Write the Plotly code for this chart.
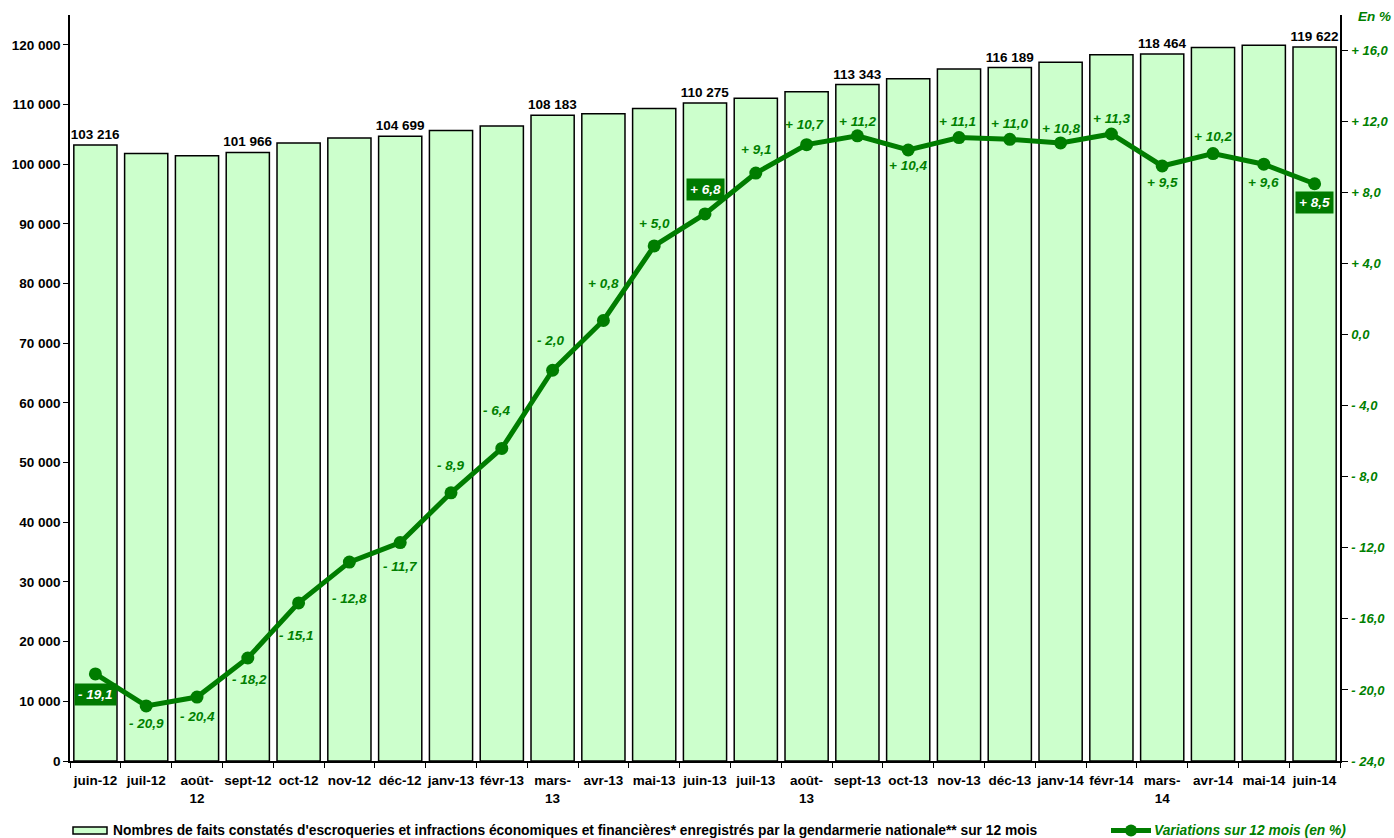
import plotly.graph_objects as go

# Monthly categories (rolling 12-month totals)
months = ["juin-12", "juil-12", "août-12", "sept-12", "oct-12", "nov-12", "déc-12",
          "janv-13", "févr-13", "mars-13", "avr-13", "mai-13", "juin-13", "juil-13",
          "août-13", "sept-13", "oct-13", "nov-13", "déc-13", "janv-14", "févr-14",
          "mars-14", "avr-14", "mai-14", "juin-14"]

# Tick labels for the category axis (long ones wrap)
month_labels = ["juin-12", "juil-12", "août-<br>12", "sept-12", "oct-12", "nov-12", "déc-12",
                "janv-13", "févr-13", "mars-<br>13", "avr-13", "mai-13", "juin-13", "juil-13",
                "août-<br>13", "sept-13", "oct-13", "nov-13", "déc-13", "janv-14", "févr-14",
                "mars-<br>14", "avr-14", "mai-14", "juin-14"]

# Number of recorded offences over 12 months
faits = [103216, 101800, 101400, 101966, 103550, 104400, 104699,
         105650, 106400, 108183, 108450, 109350, 110275, 111050,
         112150, 113343, 114300, 115950, 116189, 117100, 118350,
         118464, 119550, 119950, 119622]

# Months whose total is printed above the bar
labelled_months = ["juin-12", "sept-12", "déc-12", "mars-13", "juin-13",
                   "sept-13", "déc-13", "mars-14", "juin-14"]

# Year-on-year variation, in %
variations = [-19.1, -20.9, -20.4, -18.2, -15.1, -12.8, -11.7, -8.9, -6.4, -2.0,
              0.8, 5.0, 6.8, 9.1, 10.7, 11.2, 10.4, 11.1, 11.0, 10.8, 11.3,
              9.5, 10.2, 9.6, 8.5]

# Vertical offset (px, up is positive) of each variation label from its point
label_shift = [-21, -18, -19, -22, -33, -36, -24, 27, 38, 30, 37, 22, 24, 24,
               20, 14, -16, 16, 16, 14, 16, -17, 17, -18, -19]
label_xshift = [0, 0, 0, 2, -2, 0, 0, 0, -5, -2, 0, 0, 0, 0,
                -2, 0, 0, -2, 0, 0, 0, 0, 0, 0, 0]
highlighted = ["juin-12", "juin-13", "juin-14"]

# Right axis ticks
pct_ticks = [-24, -20, -16, -12, -8, -4, 0, 4, 8, 12, 16]

GREEN = "#008000"
LINE_GREEN = "#007D00"
BOX_GREEN = "#007A00"
FONT = "Liberation Sans, Arial, sans-serif"


def fmt_int(v):
    return f"{v:,}".replace(",", " ")


def fmt_pct(v):
    s = f"{abs(v):.1f}".replace(".", ",")
    if v > 0:
        return "+ " + s
    if v < 0:
        return "- " + s
    return s


bar_text = [fmt_int(v) if m in labelled_months else "" for m, v in zip(months, faits)]

fig = go.Figure()

fig.add_trace(go.Bar(
    x=months, y=faits,
    marker=dict(color="#CCFFCC", line=dict(color="black", width=1.5)),
    text=bar_text, textposition="outside", constraintext="none",
    textfont=dict(family=FONT, size=13.5, color="black", weight="bold"),
    cliponaxis=False, showlegend=False, hoverinfo="x+y",
))

fig.add_trace(go.Scatter(
    x=months, y=variations, yaxis="y2", mode="lines+markers",
    line=dict(color=LINE_GREEN, width=5),
    marker=dict(color=LINE_GREEN, size=13),
    showlegend=False, cliponaxis=False,
))

annotations = []
for m, v, dy, dx in zip(months, variations, label_shift, label_xshift):
    txt = "<b><i>" + fmt_pct(v) + "</i></b>"
    if m in highlighted:
        annotations.append(dict(
            x=m, y=v, xref="x", yref="y2", text=txt,
            showarrow=False, yshift=dy, xshift=dx, bgcolor=BOX_GREEN, borderpad=3,
            font=dict(family=FONT, size=13.5, color="white"),
        ))
    else:
        annotations.append(dict(
            x=m, y=v, xref="x", yref="y2", text=txt,
            showarrow=False, yshift=dy, xshift=dx,
            font=dict(family=FONT, size=13.5, color=GREEN),
        ))

PW, PH = 1270.0, 746.0

# Unit of the right axis
annotations.append(dict(
    x=(1393 - 70) / PW, y=(761 - 16) / PH, xref="paper", yref="paper",
    xanchor="right", yanchor="middle",
    text="<b><i>En %</i></b>", showarrow=False,
    font=dict(family=FONT, size=13.5, color=GREEN),
))

# Legend entries drawn below the plot
leg_y = -(830.5 - 761) / PH
annotations.append(dict(
    x=(111 - 70) / PW, y=leg_y, xref="paper", yref="paper", xanchor="left", yanchor="middle",
    text="<b>Nombres de faits constatés d'escroqueries et infractions économiques et financières* "
         "enregistrés par la gendarmerie nationale** sur 12 mois</b>",
    showarrow=False, font=dict(family=FONT, size=13.8, color="black"),
))
annotations.append(dict(
    x=(1152 - 70) / PW, y=leg_y, xref="paper", yref="paper", xanchor="left", yanchor="middle",
    text="<b><i>Variations sur 12 mois (en %)</i></b>",
    showarrow=False, font=dict(family=FONT, size=13.8, color=GREEN),
))

shapes = [
    dict(type="rect", xref="paper", yref="paper",
         x0=(73 - 70) / PW, x1=(107 - 70) / PW,
         y0=-(834 - 761) / PH, y1=-(827 - 761) / PH,
         fillcolor="#CCFFCC", line=dict(color="black", width=1.5)),
    dict(type="line", xref="paper", yref="paper",
         x0=(1111 - 70) / PW, x1=(1151 - 70) / PW, y0=leg_y, y1=leg_y,
         line=dict(color=LINE_GREEN, width=5)),
    dict(type="circle", xref="paper", yref="paper",
         x0=(1125 - 70) / PW, x1=(1137 - 70) / PW,
         y0=-(836.5 - 761) / PH, y1=-(824.5 - 761) / PH,
         fillcolor=LINE_GREEN, line=dict(color=LINE_GREEN, width=0)),
]

fig.update_layout(
    width=1394, height=838,
    margin=dict(l=70, r=54, t=15, b=77, autoexpand=False),
    paper_bgcolor="white", plot_bgcolor="white",
    separators=", ",
    bargap=0.15,
    font=dict(family=FONT, size=13.5, color="black"),
    xaxis=dict(
        type="category", range=[-0.5, len(months) - 0.5], automargin=False,
        tickmode="array", tickvals=months, ticktext=month_labels, tickangle=0,
        tickson="boundaries", ticks="outside", ticklen=5, tickcolor="black",
        ticklabelstandoff=6,
        showline=True, linecolor="black", linewidth=1.5, showgrid=False,
        tickfont=dict(family=FONT, size=13.5, color="black", weight="bold"),
    ),
    yaxis=dict(
        range=[0, 125000], tickmode="array", automargin=False,
        tickvals=[0, 10000, 20000, 30000, 40000, 50000, 60000, 70000, 80000, 90000,
                  100000, 110000, 120000],
        tickformat=",d", ticks="outside", ticklen=5, tickcolor="black",
        showline=True, linecolor="black", linewidth=1.5, showgrid=False, zeroline=False,
        tickfont=dict(family=FONT, size=13.5, color="black", weight="bold"),
    ),
    yaxis2=dict(
        range=[-24, 18], overlaying="y", side="right", tickmode="array", automargin=False,
        tickvals=pct_ticks, ticktext=[fmt_pct(t) for t in pct_ticks],
        ticks="outside", ticklen=6, tickcolor="black", ticklabelstandoff=1,
        showline=True, linecolor="black", linewidth=1.5, showgrid=False, zeroline=False,
        tickfont=dict(family=FONT, size=13, color=GREEN, weight="bold", style="italic"),
    ),
    annotations=annotations,
    shapes=shapes,
)

fig.write_html("out.html")
